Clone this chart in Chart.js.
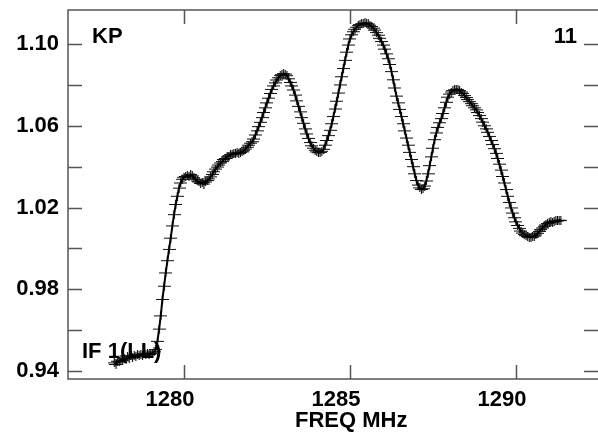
<!DOCTYPE html>
<html>
<head>
<meta charset="utf-8">
<script src="https://cdn.jsdelivr.net/npm/chart.js@4.4.1/dist/chart.umd.min.js"></script>
<style>
  html, body { margin: 0; padding: 0; background: #fff; }
  #plot { display: block; }
</style>
</head>
<body>
<canvas id="plot" width="598" height="432"></canvas>
<script>
// channel grid of the spectrum (MHz)
const FREQ_START = 1277.90;
const FREQ_STEP = 0.05;

// amplitude per channel
const amplitude = [
  0.9440, 0.9432, 0.9448, 0.9445, 0.9455, 0.9450, 0.9462, 0.9458, 0.9470, 0.9463,
  0.9475, 0.9468, 0.9478, 0.9472, 0.9480, 0.9474, 0.9482, 0.9477, 0.9484, 0.9479,
  0.9486, 0.9481, 0.9488, 0.9485, 0.9494,
  0.9505, 0.9545, 0.9605, 0.9670, 0.9750, 0.9815, 0.9880, 0.9940, 0.9995, 1.0050,
  1.0110, 1.0165, 1.0215, 1.0255, 1.0295, 1.0320, 1.0338, 1.0348,
  1.0352, 1.0358, 1.0350, 1.0362, 1.0355, 1.0345, 1.0338, 1.0330, 1.0325, 1.0318,
  1.0322, 1.0315, 1.0325, 1.0332, 1.0340, 1.0350, 1.0362, 1.0375, 1.0388, 1.0398,
  1.0408, 1.0418, 1.0425, 1.0435, 1.0440, 1.0448, 1.0452, 1.0458, 1.0460, 1.0466,
  1.0462, 1.0468, 1.0465, 1.0470, 1.0472, 1.0478, 1.0486, 1.0495, 1.0505, 1.0515,
  1.0522, 1.0535, 1.0555, 1.0575, 1.0596, 1.0617, 1.0640, 1.0665, 1.0688, 1.0712,
  1.0735, 1.0758, 1.0778, 1.0795, 1.0810, 1.0824, 1.0835, 1.0845, 1.0850, 1.0855,
  1.0853, 1.0845, 1.0830, 1.0812, 1.0795, 1.0775, 1.0750, 1.0722, 1.0695, 1.0668,
  1.0640, 1.0612, 1.0585, 1.0560, 1.0538, 1.0518, 1.0502, 1.0490, 1.0480, 1.0472,
  1.0468, 1.0470, 1.0475, 1.0485, 1.0505, 1.0528, 1.0552, 1.0578, 1.0610, 1.0645,
  1.0682, 1.0720, 1.0760, 1.0800, 1.0840, 1.0880, 1.0920, 1.0960, 1.0995, 1.1025,
  1.1045, 1.1060, 1.1072, 1.1082, 1.1090, 1.1095, 1.1098, 1.1101, 1.1103, 1.1101,
  1.1098, 1.1092, 1.1086, 1.1078, 1.1068, 1.1056, 1.1043, 1.1028, 1.1012, 1.0995,
  1.0975, 1.0952, 1.0928, 1.0900, 1.0865, 1.0825, 1.0785, 1.0745, 1.0712, 1.0680,
  1.0645, 1.0610, 1.0575, 1.0540, 1.0505, 1.0470, 1.0435, 1.0400, 1.0365, 1.0332,
  1.0310, 1.0296, 1.0288, 1.0292, 1.0305, 1.0330, 1.0365, 1.0405, 1.0448, 1.0490,
  1.0532, 1.0565, 1.0592, 1.0615, 1.0635, 1.0660, 1.0688, 1.0715, 1.0740, 1.0755,
  1.0765, 1.0772, 1.0776, 1.0778, 1.0777, 1.0772, 1.0765, 1.0758, 1.0748, 1.0738,
  1.0728, 1.0718, 1.0708, 1.0698, 1.0688, 1.0678, 1.0665, 1.0650, 1.0635, 1.0618,
  1.0600, 1.0585, 1.0568, 1.0548, 1.0528, 1.0508, 1.0488, 1.0465, 1.0440, 1.0412,
  1.0383, 1.0352, 1.0320, 1.0288, 1.0255, 1.0225, 1.0198, 1.0173, 1.0150, 1.0130,
  1.0112, 1.0098, 1.0085, 1.0075, 1.0068, 1.0062, 1.0058, 1.0055, 1.0055, 1.0056,
  1.0060, 1.0066, 1.0074, 1.0083, 1.0092, 1.0100, 1.0108, 1.0115, 1.0122, 1.0128,
  1.0130, 1.0126, 1.0132, 1.0135, 1.0134, 1.0138, 1.0136
];

const freqs = amplitude.map((_, i) => +(FREQ_START + i * FREQ_STEP).toFixed(2));
const points = freqs.map((f, i) => ({ x: f, y: amplitude[i] }));

const xTicks = [1280, 1285, 1290];
const yTicks = [0.94, 0.96, 0.98, 1.00, 1.02, 1.04, 1.06, 1.08, 1.10];
const yLabelled = ['0.94', '0.98', '1.02', '1.06', '1.10'];

const FONT = 'bold 22px "Liberation Sans", Arial, sans-serif';

// plus-shaped marker, wider than tall
const marker = document.createElement('canvas');
marker.width = 13;
marker.height = 9;
const mctx = marker.getContext('2d');
mctx.strokeStyle = '#111';
mctx.lineWidth = 1.2;
mctx.beginPath();
mctx.moveTo(0, 4.5); mctx.lineTo(13, 4.5);
mctx.moveTo(6.5, 0); mctx.lineTo(6.5, 9);
mctx.stroke();

// frame (right side runs off the canvas), inward ticks, corner captions
const frameTicks = {
  id: 'frameTicks',
  afterDraw(chart) {
    const { ctx, chartArea: ca, scales } = chart;
    const len = 14;
    ctx.save();
    ctx.strokeStyle = '#555';
    ctx.lineWidth = 1.5;
    ctx.beginPath();
    ctx.moveTo(ca.right + 2, ca.top);
    ctx.lineTo(ca.left, ca.top);
    ctx.lineTo(ca.left, ca.bottom);
    ctx.lineTo(ca.right + 2, ca.bottom);
    scales.y.ticks.forEach(t => {
      const py = Math.round(scales.y.getPixelForValue(t.value)) + 0.5;
      ctx.moveTo(ca.left, py); ctx.lineTo(ca.left + len, py);
      ctx.moveTo(ca.right, py); ctx.lineTo(ca.right - len, py);
    });
    scales.x.ticks.forEach(t => {
      const px = Math.round(scales.x.getPixelForValue(t.value)) + 0.5;
      ctx.moveTo(px, ca.top); ctx.lineTo(px, ca.top + len);
      ctx.moveTo(px, ca.bottom); ctx.lineTo(px, ca.bottom - len);
    });
    ctx.stroke();

    ctx.fillStyle = '#000';
    ctx.font = FONT;
    ctx.textBaseline = 'alphabetic';
    ctx.textAlign = 'left';
    ctx.fillText('KP', ca.left + 24, 43);
    ctx.fillText('IF 1(LL)', ca.left + 14, 358);
    ctx.fillText('FREQ MHz', 295, 427);
    ctx.textAlign = 'right';
    ctx.fillText('11', 577, 43);
    ctx.restore();
  }
};

new Chart(document.getElementById('plot'), {
  type: 'scatter',
  data: {
    datasets: [
      {
        data: points,
        showLine: true,
        borderColor: '#000',
        borderWidth: 2,
        pointRadius: 0,
        order: 0
      },
      {
        data: points,
        showLine: false,
        pointStyle: marker,
        pointRadius: 6,
        order: 1
      }
    ]
  },
  options: {
    responsive: false,
    animation: false,
    layout: { autoPadding: false, padding: { top: 10, right: 0, left: 0, bottom: 0 } },
    plugins: {
      legend: { display: false },
      tooltip: { enabled: false }
    },
    scales: {
      x: {
        type: 'linear',
        min: 1276.506,
        max: 1292.47,
        afterFit: s => {
          s.height = 53;
          s.paddingLeft = 0; s.paddingRight = 0;
        },
        afterBuildTicks: s => { s.ticks = xTicks.map(v => ({ value: v })); },
        grid: { display: false },
        border: { display: false },
        ticks: {
          color: '#000',
          font: { family: '"Liberation Sans", Arial, sans-serif', size: 22, weight: 'bold' },
          padding: 0,
          labelOffset: -14,
          maxRotation: 0,
          callback: v => String(v)
        }
      },
      y: {
        type: 'linear',
        min: 0.93609,
        max: 1.11664,
        afterFit: s => {
          s.width = 68;
          s.paddingTop = 0; s.paddingBottom = 0;
        },
        afterBuildTicks: s => { s.ticks = yTicks.map(v => ({ value: v })); },
        grid: { display: false },
        border: { display: false },
        ticks: {
          color: '#000',
          font: { family: '"Liberation Sans", Arial, sans-serif', size: 22, weight: 'bold' },
          padding: 1,
          callback: v => {
            const s = v.toFixed(2);
            return yLabelled.includes(s) ? s : '';
          }
        }
      }
    }
  },
  plugins: [frameTicks]
});
</script>
</body>
</html>
